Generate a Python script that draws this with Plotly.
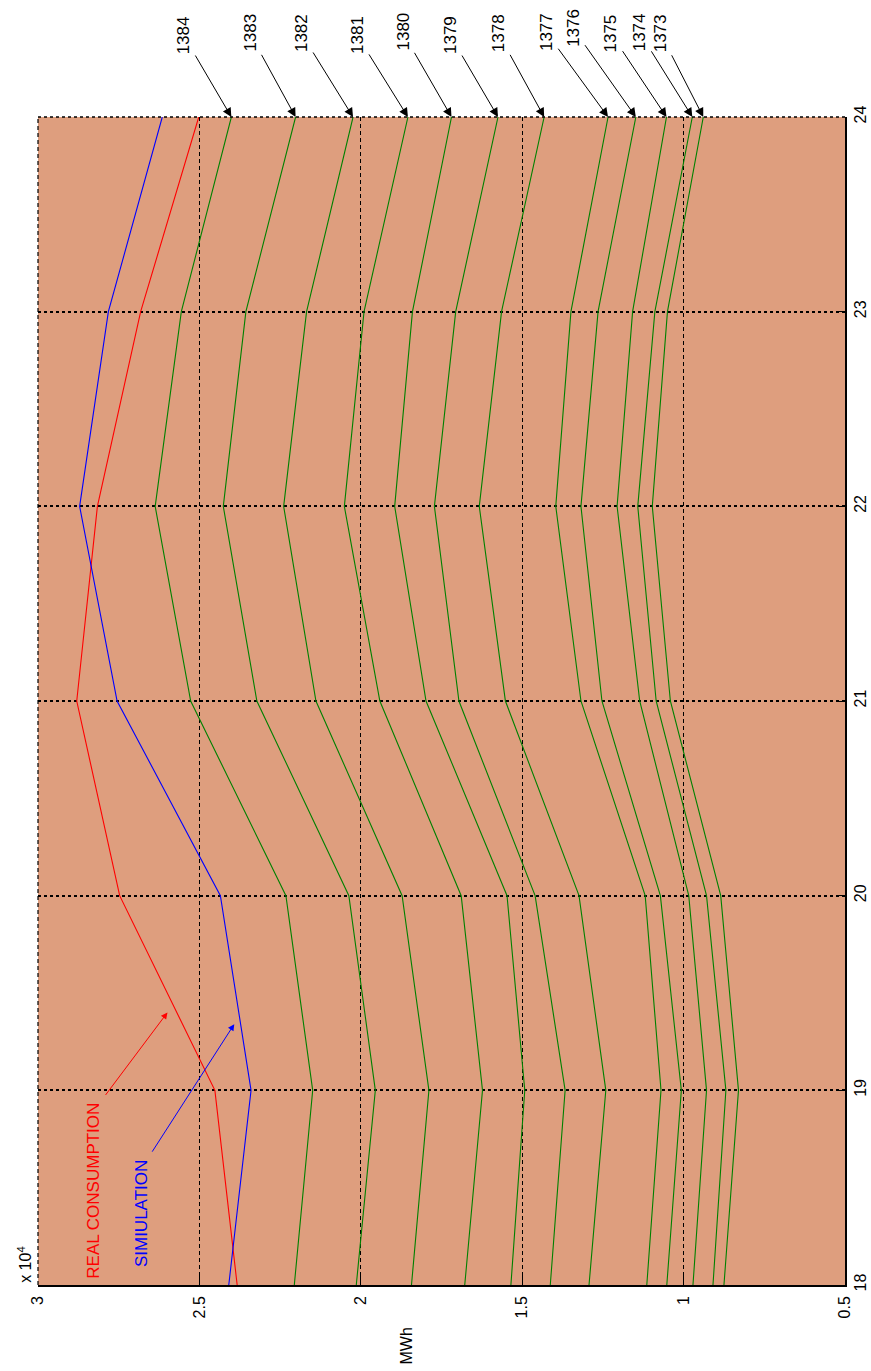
import plotly.graph_objects as go

# Hour of day (drawn along the vertical axis, 18 at the bottom)
hours = [18, 19, 20, 21, 22, 23, 24]

# Hourly consumption in MWh
real_consumption = [23830, 24520, 27470, 28800, 28160, 26820, 25020]
simulation = [24090, 23400, 24350, 27550, 28710, 27820, 26150]

y1384 = [22060, 21490, 22320, 25270, 26370, 25560, 24010]
y1383 = [20140, 19550, 20370, 23220, 24260, 23560, 22020]
y1382 = [18430, 17890, 18720, 21390, 22390, 21680, 20240]
y1381 = [16780, 16230, 16890, 19410, 20510, 19900, 18540]
y1380 = [15350, 14920, 15470, 17980, 18950, 18400, 17190]
y1379 = [14130, 13670, 14600, 16960, 17720, 17060, 15750]
y1378 = [12930, 12410, 13240, 15520, 16330, 15640, 14320]
y1377 = [11140, 10700, 11190, 13180, 13960, 13490, 12340]
y1376 = [10520, 10070, 10720, 12530, 13180, 12650, 11480]
y1375 = [9710, 9290, 9840, 11360, 12060, 11580, 10530]
y1374 = [9090, 8690, 9290, 10850, 11420, 10890, 9730]
y1373 = [8750, 8300, 8850, 10410, 10970, 10500, 9390]

year_names = ["1384", "1383", "1382", "1381", "1380", "1379",
              "1378", "1377", "1376", "1375", "1374", "1373"]
year_series = [y1384, y1383, y1382, y1381, y1380, y1379,
               y1378, y1377, y1376, y1375, y1374, y1373]

# Value-axis ticks (scaled by 10^4)
mwh_ticks = [5000, 10000, 15000, 20000, 25000, 30000]
mwh_tick_text = ["0.5", "1", "1.5", "2", "2.5", "3"]

# Pixel offsets from each arrow head to its year label
label_dx = [-48, -46, -52, -51, -49, -48, -46, -62, -63, -56, -53, -43]
label_dy = [-82, -84, -84, -82, -85, -82, -84, -85, -89, -84, -85, -84]

FONT = "Liberation Sans, Arial, Helvetica, sans-serif"
BG = "#DE9E7E"
GREEN = "rgb(0,128,0)"

fig = go.Figure()

for name, vals in zip(year_names, year_series):
    fig.add_trace(go.Scatter(x=vals, y=hours, mode="lines", name=name,
                             line=dict(color=GREEN, width=1.1)))

fig.add_trace(go.Scatter(x=real_consumption, y=hours, mode="lines",
                         name="REAL CONSUMPTION",
                         line=dict(color="rgb(255,0,0)", width=1.1)))
fig.add_trace(go.Scatter(x=simulation, y=hours, mode="lines",
                         name="SIMIULATION",
                         line=dict(color="rgb(0,0,255)", width=1.1)))

annotations = []

# Year labels with arrows pointing at each curve's last point
for name, vals, dx, dy in zip(year_names, year_series, label_dx, label_dy):
    annotations.append(dict(
        x=vals[-1], y=hours[-1], xref="x", yref="y",
        text=name, textangle=-90, showarrow=True,
        ax=dx, ay=dy, arrowhead=2, arrowsize=1.8, arrowwidth=1,
        arrowcolor="black", standoff=0, startstandoff=2,
        font=dict(family=FONT, size=17, color="black")))

# Curve captions
annotations.append(dict(x=0.069, y=0.0805, xref="paper", yref="paper",
                        text="REAL CONSUMPTION", textangle=-90, showarrow=False,
                        xanchor="center", yanchor="middle",
                        font=dict(family=FONT, size=17, color="rgb(255,0,0)")))
annotations.append(dict(x=0.129, y=0.0608, xref="paper", yref="paper",
                        text="SIMIULATION", textangle=-90, showarrow=False,
                        xanchor="center", yanchor="middle",
                        font=dict(family=FONT, size=17, color="rgb(0,0,255)")))

# Caption pointers
annotations.append(dict(x=25990, y=19.4, xref="x", yref="y", text="",
                        showarrow=True, ax=-63, ay=84, arrowhead=2,
                        arrowsize=1.3, arrowwidth=1, arrowcolor="rgb(255,0,0)"))
annotations.append(dict(x=23920, y=19.34, xref="x", yref="y", text="",
                        showarrow=True, ax=-83, ay=129, arrowhead=2,
                        arrowsize=1.3, arrowwidth=1, arrowcolor="rgb(0,0,255)"))

# Axis multiplier and unit
annotations.append(dict(x=-0.0165, y=0.017, xref="paper", yref="paper",
                        text="x 10<sup>4</sup>", textangle=-90, showarrow=False,
                        xanchor="center", yanchor="middle",
                        font=dict(family=FONT, size=16, color="black")))
annotations.append(dict(x=0.457, y=-0.052, xref="paper", yref="paper",
                        text="MWh", textangle=-90, showarrow=False,
                        xanchor="center", yanchor="middle",
                        font=dict(family=FONT, size=16, color="black")))

# Dotted frame edges on the two sides without an axis line
shapes = [
    dict(type="line", xref="paper", yref="paper", x0=0, x1=1, y0=1, y1=1,
         line=dict(color="black", width=1.6, dash="3px,3px"), layer="above"),
    dict(type="line", xref="paper", yref="paper", x0=0, x1=0, y0=0, y1=1,
         line=dict(color="black", width=1.2, dash="4px,3px"), layer="above"),
]

fig.update_layout(
    width=871, height=1371,
    margin=dict(l=38, r=26, t=117, b=86, autoexpand=False),
    paper_bgcolor="white",
    plot_bgcolor=BG,
    showlegend=False,
    annotations=annotations,
    shapes=shapes,
    font=dict(family=FONT, size=16, color="black"),
)

fig.update_xaxes(
    range=[30000, 5000],
    tickmode="array", tickvals=mwh_ticks, ticktext=mwh_tick_text,
    tickangle=-90, ticks="inside", ticklen=9, tickcolor="black",
    ticklabelstandoff=3,
    showline=True, linecolor="black", linewidth=1.5, mirror=False,
    showgrid=True, gridcolor="black", gridwidth=1.2, griddash="4px,3px",
    zeroline=False,
    tickfont=dict(family=FONT, size=16, color="black"),
)

fig.update_yaxes(
    range=[18, 24], side="right",
    tickmode="array", tickvals=hours,
    tickangle=-90, ticks="inside", ticklen=9, tickcolor="black",
    ticklabelstandoff=0,
    showline=True, linecolor="black", linewidth=1.5, mirror=False,
    showgrid=True, gridcolor="black", gridwidth=1.6, griddash="3px,3px",
    zeroline=False,
    tickfont=dict(family=FONT, size=16, color="black"),
)

fig.write_html("out.html")
